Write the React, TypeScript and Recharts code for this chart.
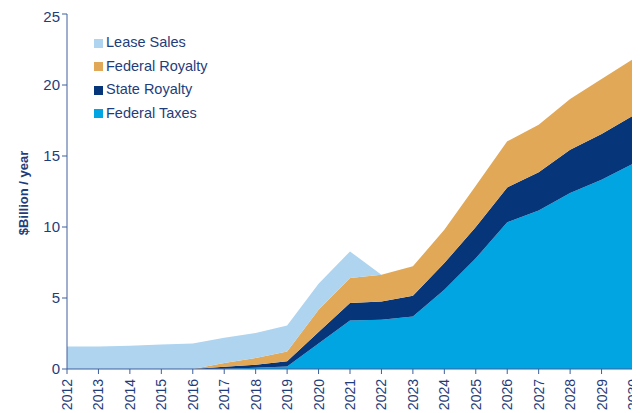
import { Area, AreaChart, XAxis, YAxis } from "recharts";

const years = [
  "2012", "2013", "2014", "2015", "2016", "2017", "2018", "2019", "2020", "2021",
  "2022", "2023", "2024", "2025", "2026", "2027", "2028", "2029", "2030",
];
const federalTaxes = [0, 0, 0, 0, 0, 0.02, 0.08, 0.18, 1.8, 3.42, 3.47, 3.7, 5.58, 7.8, 10.33, 11.17, 12.39, 13.33, 14.46];
const stateRoyalty = [0, 0, 0, 0, 0, 0.13, 0.22, 0.36, 0.8, 1.23, 1.29, 1.46, 1.88, 2.2, 2.46, 2.68, 3.05, 3.22, 3.38];
const federalRoyalty = [0, 0, 0, 0, 0, 0.27, 0.47, 0.7, 1.58, 1.76, 1.88, 2.07, 2.35, 2.9, 3.24, 3.35, 3.57, 3.87, 3.99];
const leaseSales = [1.59, 1.58, 1.64, 1.72, 1.8, 1.78, 1.76, 1.83, 1.82, 1.87, 0, 0, 0, 0, 0, 0, 0, 0, 0];
const yTicks = [0, 5, 10, 15, 20, 25];

const data = years.map((year, i) => ({
  year,
  federalTaxes: federalTaxes[i],
  stateRoyalty: stateRoyalty[i],
  federalRoyalty: federalRoyalty[i],
  leaseSales: leaseSales[i],
}));

const textColor = "#1F3D7A";
const axisColor = "#3F5F9A";
const font = "'Liberation Sans', Arial, sans-serif";

const legendItems = [
  { name: "Lease Sales", color: "#AED4F0" },
  { name: "Federal Royalty", color: "#E1A857" },
  { name: "State Royalty", color: "#06357A" },
  { name: "Federal Taxes", color: "#00A5E1" },
];

// legend sits inside the plot, top-left
const LegendBox = () => (
  <div
    style={{
      position: "absolute",
      top: 22.5,
      left: 86,
      fontFamily: font,
      fontSize: 14.5,
      color: textColor,
    }}
  >
    {legendItems.map((item) => (
      <div key={item.name} style={{ display: "flex", alignItems: "center", height: 23.5 }}>
        <span style={{ width: 9, height: 9, background: item.color, marginRight: 3, marginTop: 2 }} />
        <span>{item.name}</span>
      </div>
    ))}
  </div>
);

// vertical year labels, centred on the tick
const YearTick = ({ x, y, payload }: any) => (
  <text
    transform={`translate(${x},${y + 3}) rotate(-90)`}
    textAnchor="end"
    dy="0.36em"
    fill={textColor}
    fontSize={14}
    fontFamily={font}
  >
    {payload.value}
  </text>
);

const App = () => {
  return (
    <div style={{ position: "relative", width: 632, height: 405 }}>
      <AreaChart
        width={632}
        height={405}
        data={data}
        margin={{ top: 6, right: 7, left: 0, bottom: 0 }}
        style={{ fontFamily: font, overflow: "visible" }}
      >
        <XAxis
          dataKey="year"
          interval={0}
          height={44}
          stroke={axisColor}
          tickLine={{ stroke: axisColor }}
          tickSize={5}
          tick={<YearTick />}
        />
        <YAxis
          domain={[0, 25]}
          ticks={yTicks}
          width={59}
          stroke={axisColor}
          tickSize={5}
          tick={{ fill: textColor, fontSize: 15 }}
          label={{
            content: () => (
              <text
                transform="translate(20,185) rotate(-90)"
                textAnchor="middle"
                fill={textColor}
                fontSize={13}
                fontWeight="bold"
                fontFamily={font}
              >
                $Billion / year
              </text>
            ),
          }}
        />
        <Area type="linear" dataKey="federalTaxes" stackId="a" stroke="none" fill="#00A5E1" fillOpacity={1} isAnimationActive={false} />
        <Area type="linear" dataKey="stateRoyalty" stackId="a" stroke="none" fill="#06357A" fillOpacity={1} isAnimationActive={false} />
        <Area type="linear" dataKey="federalRoyalty" stackId="a" stroke="none" fill="#E1A857" fillOpacity={1} isAnimationActive={false} />
        <Area type="linear" dataKey="leaseSales" stackId="a" stroke="none" fill="#AED4F0" fillOpacity={1} isAnimationActive={false} />
      </AreaChart>
      <LegendBox />
    </div>
  );
};

export default App;
